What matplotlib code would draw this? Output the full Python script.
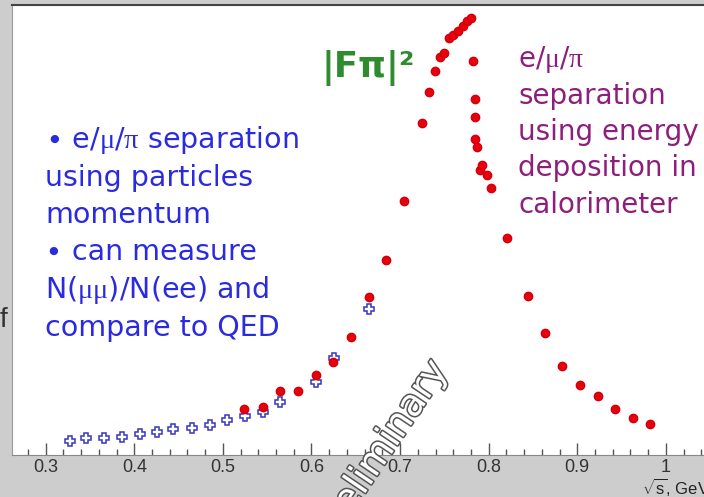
import matplotlib
matplotlib.use('Agg')
import matplotlib.pyplot as plt
import matplotlib.patheffects as pe
from matplotlib.ticker import FixedLocator

plt.rcParams['mathtext.fontset'] = 'custom'
plt.rcParams['mathtext.rm'] = 'Liberation Serif'
plt.rcParams['mathtext.sf'] = 'Liberation Sans'

W, H = 704, 497

# e+e- -> pi+pi- points (red, filled) and mu mu points (blue, open crosses)
red_x = [0.524, 0.545, 0.565, 0.585, 0.605, 0.624, 0.645, 0.665, 0.684, 0.704,
         0.725, 0.733, 0.739, 0.745, 0.749, 0.755, 0.760, 0.765, 0.771, 0.776,
         0.780, 0.782, 0.784, 0.785, 0.785, 0.787, 0.790, 0.792, 0.798, 0.803,
         0.821, 0.844, 0.863, 0.883, 0.903, 0.923, 0.943, 0.963, 0.982]
red_y = [4.6, 4.85, 6.43, 6.4, 7.97, 9.3, 11.83, 15.83, 19.5, 25.4,
         33.2, 36.35, 38.45, 39.83, 40.2, 41.67, 42.0, 42.4, 42.9, 43.4,
         43.7, 39.43, 35.57, 33.85, 31.6, 30.8, 28.55, 29.0, 28.0, 26.67,
         21.7, 15.9, 12.23, 8.93, 7.0, 5.9, 4.63, 3.73, 3.13]

blue_x = [0.327, 0.346, 0.366, 0.386, 0.406, 0.426, 0.444, 0.465, 0.485, 0.505,
          0.525, 0.545, 0.565, 0.605, 0.625, 0.665]
blue_y = [1.43, 1.73, 1.73, 1.83, 2.07, 2.33, 2.6, 2.67, 3.0, 3.5,
          3.95, 4.33, 5.3, 7.35, 9.67, 14.57]

tick_vals = [0.3, 0.4, 0.5, 0.6, 0.7, 0.8, 0.9, 1.0]
tick_labels = ['0.3', '0.4', '0.5', '0.6', '0.7', '0.8', '0.9', '1']
minor_vals = [0.28 + 0.02 * i for i in range(39)]

blue_lines = ['∙ e/$\\mathrm{\\mu}$/$\\mathrm{\\pi}$ separation', 'using particles', 'momentum',
              '∙ can measure', 'N($\\mathrm{\\mu\\mu}$)/N(ee) and', 'compare to QED']
purple_lines = ['e/$\\mathrm{\\mu}$/$\\mathrm{\\pi}$', 'separation', 'using energy',
                'deposition in', 'calorimeter']


def fpos(x, y):
    # pixel position in the picture -> figure fraction
    return x / W, 1 - y / H


fig = plt.figure(figsize=(W / 100, H / 100), dpi=100, facecolor='#cdcdcd')
ax = fig.add_axes([12 / W, 1 - 455 / H, 692 / W, 450 / H])
ax.set_facecolor('white')
ax.set_xlim(0.262, 1.043)
ax.set_ylim(0, 45)

ax.plot(blue_x, blue_y, linestyle='none', marker='P', markersize=6.5,
        markerfacecolor='none', markeredgecolor='#3535c0', markeredgewidth=1.1, zorder=3)
ax.plot(red_x, red_y, linestyle='none', marker='o', markersize=6,
        markerfacecolor='#e8000c', markeredgecolor='#d0000a', zorder=4)

ax.xaxis.set_major_locator(FixedLocator(tick_vals))
ax.set_xticklabels(tick_labels)
ax.xaxis.set_minor_locator(FixedLocator(minor_vals))
ax.set_yticks([])
ax.tick_params(axis='x', which='major', direction='in', length=8.5, width=1,
               color='#555555', labelcolor='#333333', labelsize=13, pad=3)
ax.tick_params(axis='x', which='minor', direction='in', length=4.3, width=1,
               color='#555555')
for lab in ax.get_xticklabels():
    lab.set_family('Liberation Sans')

ax.spines['right'].set_visible(False)
ax.spines['top'].set_color('#444444')
ax.spines['top'].set_linewidth(1.5)
ax.spines['left'].set_color('#999999')
ax.spines['bottom'].set_color('#888888')

fig.text(*fpos(642, 494), '$\\sqrt{\\mathsf{s}}$, GeV', fontsize=12,
         family='Liberation Sans', color='#222222', va='baseline')
fig.text(*fpos(0, 327), 'f', fontsize=20, family='Liberation Sans',
         color='#333333', va='baseline')

for i, line in enumerate(blue_lines):
    fig.text(*fpos(45, 148 + 37.5 * i), line, fontsize=20.5, color='#2a2ae0',
             va='baseline', family='DejaVu Sans')
for i, line in enumerate(purple_lines):
    fig.text(*fpos(518, 67 + 36.5 * i), line, fontsize=20, color='#8e1e7c',
             va='baseline', family='DejaVu Sans')

fig.text(*fpos(322, 77), '|Fπ|²', fontsize=25.5, fontweight='bold',
         color='#2e8b2e', va='baseline', family='DejaVu Sans')

fig.text(*fpos(381, 452), 'Preliminary', fontsize=27, rotation=56,
         ha='center', va='center', color='white', family='DejaVu Sans',
         path_effects=[pe.Stroke(linewidth=2.2, foreground='#555555'), pe.Normal()],
         zorder=10)

fig.savefig('out.png', dpi=100, facecolor=fig.get_facecolor())
